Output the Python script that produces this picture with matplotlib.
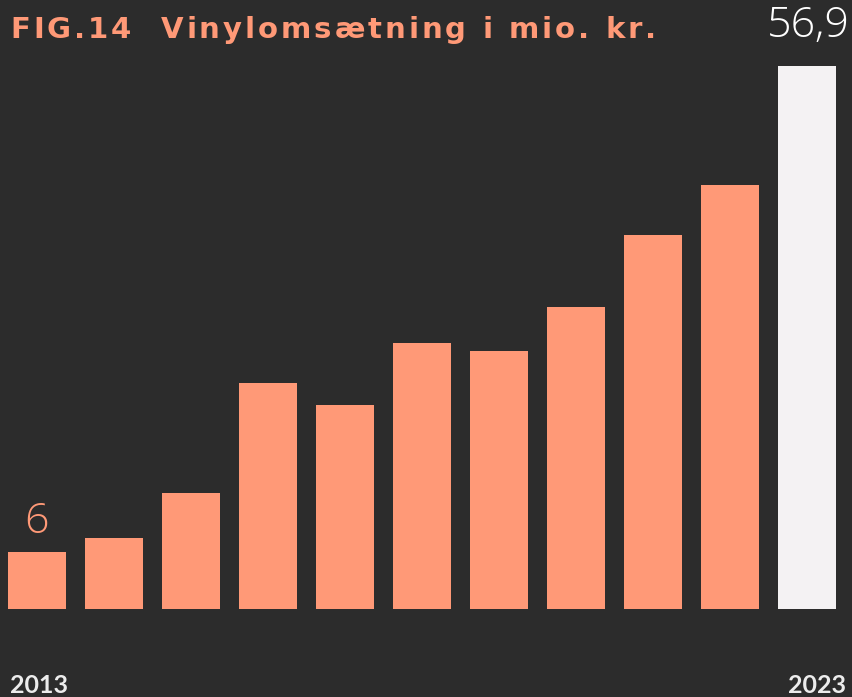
import matplotlib
matplotlib.use("Agg")
import matplotlib.pyplot as plt

years = [2013, 2014, 2015, 2016, 2017, 2018, 2019, 2020, 2021, 2022, 2023]
revenue = [6.0, 7.4, 12.2, 23.7, 21.4, 27.9, 27.0, 31.6, 39.2, 44.4, 56.9]
first_label = "6"
last_label = "56,9"
title = "FIG.14  Vinylomsætning i mio. kr."

BG = "#2c2c2c"
SALMON = "#ff9977"
LAST = "#f4f2f3"
TEXT = "#ececec"


def tracked_text(fig, x_px, y, s, track_px, **kw):
    # matplotlib has no letter spacing, so place the characters one by one
    renderer = fig.canvas.get_renderer()
    probe = fig.text(0, 0, "|", **kw)
    bar_w = probe.get_window_extent(renderer).width
    for i, ch in enumerate(s):
        probe.set_text(s[:i] + "|")
        adv = probe.get_window_extent(renderer).width - bar_w if i else 0
        px = x_px + adv + i * track_px
        fig.text(px / fig.bbox.width, y, ch, ha="left", **kw)
    probe.remove()


def main():
    fig = plt.figure(figsize=(8.52, 6.97), dpi=100, facecolor=BG)
    ax = fig.add_axes([0, 0, 1, 1])
    ax.set_facecolor(BG)

    x = list(range(len(years)))
    colors = [SALMON] * (len(years) - 1) + [LAST]
    ax.bar(x, revenue, width=0.753, color=colors, linewidth=0)

    ax.set_xlim(-0.4805, 10.584)
    ax.set_ylim(-9.22, 63.82)
    ax.axis("off")

    ax.text(x[0], revenue[0] + 0.9, first_label, ha="center", va="bottom",
            color=SALMON, fontsize=31, family="Open Sans", fontweight="light")
    ax.text(0.997, 0.994, last_label, transform=fig.transFigure, ha="right", va="top",
            color="white", fontsize=31, family="Open Sans", fontweight="light")

    tracked_text(fig, 10, 0.946, title, 3.0, va="baseline", color=SALMON,
                 fontsize=21, family="DejaVu Sans", fontweight="bold")

    fig.text(0.012, 0.0, str(years[0]), ha="left", va="bottom", color=TEXT,
             fontsize=18, family="Lato", fontweight="bold")
    fig.text(0.993, 0.0, str(years[-1]), ha="right", va="bottom", color=TEXT,
             fontsize=18, family="Lato", fontweight="bold")

    fig.savefig("out.png", dpi=100, facecolor=BG)


if __name__ == "__main__":
    main()
